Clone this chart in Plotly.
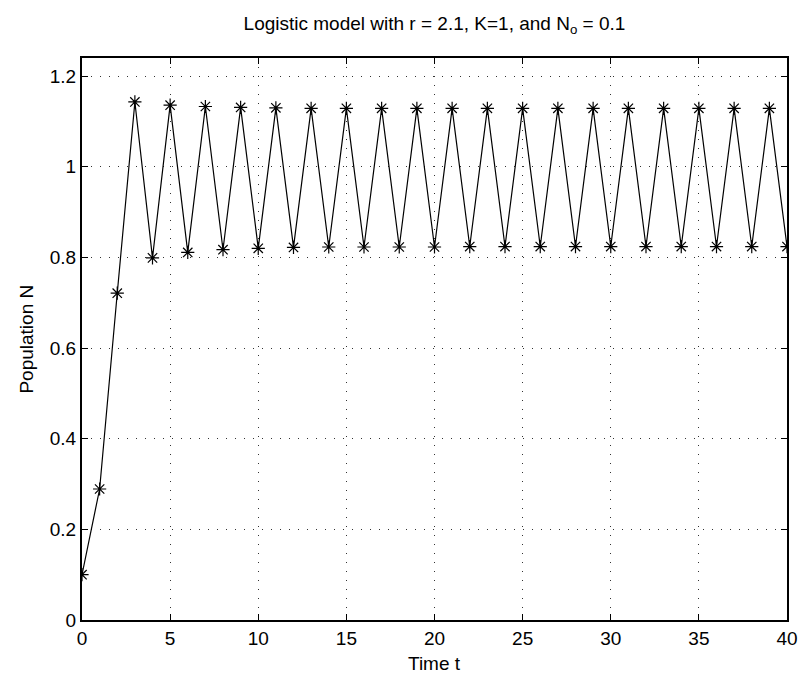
import plotly.graph_objects as go

# time steps and population values
t = list(range(41))
N = [0.100, 0.289, 0.721, 1.143, 0.799, 1.136, 0.811, 1.133, 0.817, 1.131,
     0.820, 1.130, 0.822, 1.129, 0.823, 1.129, 0.823, 1.129, 0.823, 1.129,
     0.823, 1.129, 0.824, 1.129, 0.824, 1.129, 0.824, 1.129, 0.824, 1.129,
     0.824, 1.129, 0.824, 1.129, 0.824, 1.129, 0.824, 1.129, 0.824, 1.129,
     0.824]

xticks = [0, 5, 10, 15, 20, 25, 30, 35, 40]
yticks = [0, 0.2, 0.4, 0.6, 0.8, 1.0, 1.2]
ylabels = ["0", "0.2", "0.4", "0.6", "0.8", "1", "1.2"]

font = "Liberation Sans, Arial, Helvetica, sans-serif"

fig = go.Figure()
fig.add_trace(go.Scatter(
    x=t, y=N,
    mode="lines+markers",
    line=dict(color="black", width=1.2),
    marker=dict(symbol="asterisk-open", size=11,
                line=dict(color="black", width=1.2)),
    showlegend=False,
))

axis_style = dict(
    showline=True, linecolor="black", linewidth=2, mirror="ticks",
    ticks="inside", ticklen=6, tickcolor="black", tickwidth=1,
    showgrid=True, gridcolor="#333333", gridwidth=1, griddash="1px,8px",
    zeroline=False,
    tickfont=dict(family=font, size=19, color="black"),
)

fig.update_xaxes(range=[0, 40], tickvals=xticks, **axis_style)
fig.update_yaxes(range=[0, 1.24], tickvals=yticks, ticktext=ylabels, **axis_style)

# axis titles placed as annotations so they land where matlab put them
fig.add_annotation(text="Time t", xref="paper", yref="paper", x=0.5, y=-0.078,
                   xanchor="center", yanchor="middle", showarrow=False,
                   font=dict(family=font, size=19, color="black"))
fig.add_annotation(text="Population N", xref="paper", yref="paper", x=-0.080, y=0.5,
                   xanchor="center", yanchor="middle", textangle=-90, showarrow=False,
                   font=dict(family=font, size=19, color="black"))

fig.update_layout(
    width=810, height=677,
    margin=dict(l=82, r=17, t=58, b=57),
    paper_bgcolor="white", plot_bgcolor="white",
    title=dict(text="Logistic model with r = 2.1, K=1, and N<sub>o</sub> = 0.1",
               x=0.5, xref="paper", y=0.965, yanchor="middle",
               font=dict(family=font, size=19, color="black")),
)

# drop the default page margin so the figure sits at the window origin
fig.write_html("out.html", config={"displayModeBar": False},
               post_script="document.body.style.margin='0';document.body.style.overflow='hidden';")
